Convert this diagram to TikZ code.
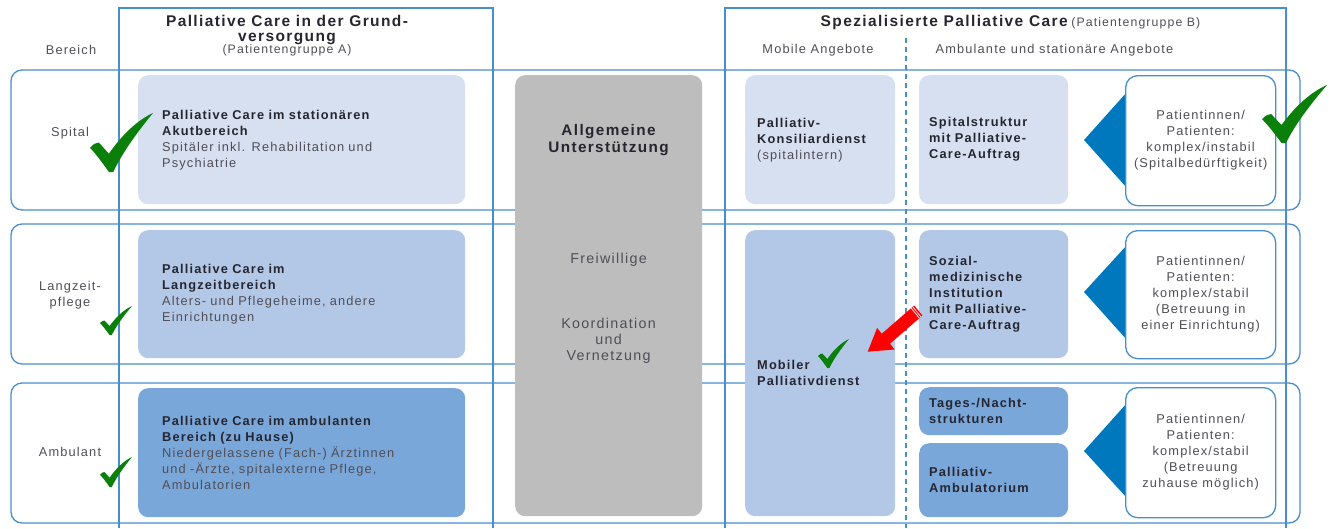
\documentclass[tikz,border=0pt]{standalone}
\usepackage{fontspec}
\setmainfont{Liberation Sans}[LetterSpace=9]
\definecolor{framec}{RGB}{72,142,204}
\definecolor{cA}{RGB}{215,224,240}
\definecolor{cB}{RGB}{179,200,231}
\definecolor{cC}{RGB}{122,167,217}
\definecolor{greyc}{RGB}{189,189,189}
\definecolor{tric}{RGB}{0,120,190}
\definecolor{textc}{RGB}{80,78,86}
\definecolor{boldc}{RGB}{38,38,48}
\definecolor{tickg}{RGB}{10,128,10}
\newcommand{\fbody}{\fontsize{12.8}{16}\selectfont}
\newcommand{\fsub}{\fontsize{12.3}{14}\selectfont}
\newcommand{\fhead}{\fontsize{15.5}{15}\selectfont\bfseries}
\newcommand{\fmidhead}{\fontsize{15.3}{16.5}\selectfont\bfseries}
\newcommand{\fmid}{\fontsize{14.3}{15.8}\selectfont}
\newcommand{\hb}[1]{{\bfseries\color{boldc}#1}}
\begin{document}
\begin{tikzpicture}[x=1pt,y=-1pt,
  colframe/.style={draw=framec,line width=1.1pt},
  rowframe/.style={draw=framec,line width=1.3pt,rounded corners=11pt},
  dashline/.style={draw=framec,line width=1.3pt,dash pattern=on 5pt off 4pt},
  box/.style={rounded corners=10pt,inner ysep=0pt,align=left,font=\fbody,text=textc,anchor=north west},
  pbox/.style={draw=framec,fill=white,line width=1.3pt,rounded corners=12pt,align=center,font=\fbody,text=textc,anchor=north west,minimum width=150pt,inner sep=0pt},
  lbl/.style={font=\fbody,text=textc,align=center},
  tri/.style={fill=tric},
  tickmark/.pic={\fill[tickg] (0,0.41) .. controls (0.05,0.47) and (0.09,0.50) .. (0.14,0.50)
     -- (0.30,0.31) .. controls (0.5,0.62) and (0.75,0.88) .. (1,1)
     .. controls (0.8,0.74) and (0.52,0.35) .. (0.37,0) -- (0.30,0)
     .. controls (0.2,0.15) and (0.1,0.3) .. (0,0.41) -- cycle;}
]
\useasboundingbox (0,0) rectangle (1333,528);
% column frames
\draw[colframe] (119,528) -- (119,8) -- (493,8) -- (493,528);
\draw[colframe] (725,528) -- (725,8) -- (1286,8) -- (1286,528);
% row frames
\draw[rowframe] (11,70) rectangle (1300,210);
\draw[rowframe] (11,224) rectangle (1300,364);
\draw[rowframe] (11,383) rectangle (1300,523);
\draw[dashline] (906,38) -- (906,528);

% headings
\node[lbl] (bereich) at (71,50) {Bereich};
\node[font=\fhead,text=boldc,align=center] (headA) at (287,30.5) {Palliative Care in der Grund-\\versorgung};
\node[font=\fsub,text=textc] (subA) at (287,50.5) {(Patientengruppe A)};
\node[text=boldc,inner sep=0pt] (headB) at (1010.5,22) {{\fhead Spezialisierte Palliative Care} {\fsub\color{textc}(Patientengruppe B)}};
\node[lbl] (mobile) at (818,50) {Mobile Angebote};
\node[lbl] (amb) at (1054.5,50) {Ambulante und stationäre Angebote};

% row labels
\node[lbl] (spital) at (70,133) {Spital};
\node[lbl] (langzeit) at (70,295.5) {Langzeit-\\pflege};
\node[lbl] (ambulant) at (70,452) {Ambulant};

% left boxes
\node[box,fill=cA,minimum width=327pt,minimum height=129pt,text width=279pt,inner xsep=24pt] (pcA1) at (138,75)
 {\hb{Palliative Care im stationären}\\\hb{Akutbereich}\\Spitäler inkl. Rehabilitation und\\Psychiatrie};
\node[box,fill=cB,minimum width=327pt,minimum height=128pt,text width=279pt,inner xsep=24pt] (pcA2) at (138,230)
 {\hb{Palliative Care im}\\\hb{Langzeitbereich}\\Alters- und Pflegeheime, andere\\Einrichtungen};
\node[box,fill=cC,minimum width=327pt,minimum height=129pt,text width=279pt,inner xsep=24pt] (pcA3) at (138,388)
 {\hb{Palliative Care im ambulanten}\\\hb{Bereich (zu Hause)}\\Niedergelassene (Fach-) Ärztinnen\\und -Ärzte, spitalexterne Pflege,\\Ambulatorien};

% middle grey box
\node[box,fill=greyc,minimum width=187pt,minimum height=441pt,inner xsep=0pt] (mid) at (515,75) {};
\node[font=\fmidhead,text=boldc,align=center] (midhead) at (608.5,140) {Allgemeine\\Unterstützung};
\node[font=\fmid,text=textc] (frei) at (608.5,260) {Freiwillige};
\node[font=\fmid,text=textc,align=center] (koord) at (608.5,341) {Koordination\\und\\Vernetzung};

% specialised boxes
\node[box,fill=cA,minimum width=150pt,minimum height=129pt,text width=126pt,inner xsep=12pt] (kons) at (745,75)
 {\hb{Palliativ-}\\\hb{Konsiliardienst}\\(spitalintern)};
\node[box,fill=cA,minimum width=149pt,minimum height=129pt,text width=129pt,inner xsep=10pt] (spstr) at (919,75)
 {\hb{Spitalstruktur}\\\hb{mit Palliative-}\\\hb{Care-Auftrag}};
\node[box,fill=cB,minimum width=150pt,minimum height=286pt,text width=126pt,inner xsep=12pt] (mobil) at (745,230)
 {\hb{Mobiler}\\\hb{Palliativdienst}};
\node[box,fill=cB,minimum width=149pt,minimum height=128pt,text width=129pt,inner xsep=10pt] (sozial) at (919,230)
 {\hb{Sozial-}\\\hb{medizinische}\\\hb{Institution}\\\hb{mit Palliative-}\\\hb{Care-Auftrag}};
\node[box,fill=cC,minimum width=149pt,minimum height=48pt,text width=129pt,inner xsep=10pt] (tages) at (919,387)
 {\hb{Tages-/Nacht-}\\\hb{strukturen}};
\node[box,fill=cC,minimum width=149pt,minimum height=74pt,text width=129pt,inner xsep=10pt] (palamb) at (919,443)
 {\hb{Palliativ-}\\\hb{Ambulatorium}};

% triangles and patient boxes
\fill[tri] (1127,92) -- (1084,140) -- (1127,188) -- cycle;
\fill[tri] (1127,245) -- (1084,292) -- (1127,340) -- cycle;
\fill[tri] (1127,403) -- (1084,451) -- (1127,498) -- cycle;
\node[pbox,minimum height=130pt] (pat1) at (1125,75)
 {Patientinnen/\\Patienten:\\komplex/instabil\\(Spitalbedürftigkeit)};
\node[pbox,minimum height=128pt] (pat2) at (1125,230)
 {Patientinnen/\\Patienten:\\komplex/stabil\\(Betreuung in\\einer Einrichtung)};
\node[pbox,minimum height=130pt] (pat3) at (1125,387)
 {Patientinnen/\\Patienten:\\komplex/stabil\\(Betreuung\\zuhause möglich)};

% red arrow
\fill[red] (914.2,305.5) -- (922.4,315.5) -- (890.0,343.7) -- (894.7,349.5) -- (867.7,351.7) -- (877.1,327.9) -- (881.8,333.7) -- cycle;
\draw[white,line width=0.7pt] (920.9,316.8) -- (912.7,306.8);
\draw[white,line width=0.7pt] (919.3,318.0) -- (911.1,308.0);

% check marks
\begin{scope}[shift={(90,172)},x=63pt,y=59pt] \pic {tickmark}; \end{scope}
\begin{scope}[shift={(100,335)},x=32pt,y=29pt] \pic {tickmark}; \end{scope}
\begin{scope}[shift={(100,487)},x=32pt,y=30pt] \pic {tickmark}; \end{scope}
\begin{scope}[shift={(1262,143)},x=65pt,y=58pt] \pic {tickmark}; \end{scope}
\begin{scope}[shift={(818,368)},x=31pt,y=29pt] \pic {tickmark}; \end{scope}
\end{tikzpicture}
\end{document}
